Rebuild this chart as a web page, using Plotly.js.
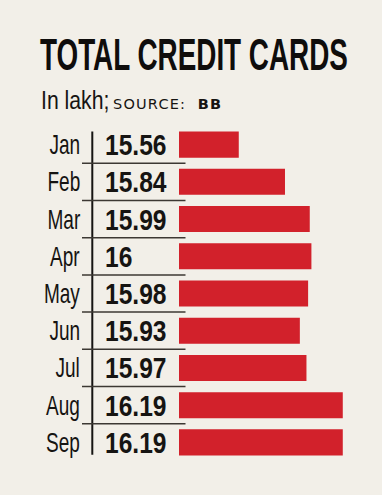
<!DOCTYPE html>
<html>
<head>
<meta charset="utf-8">
<script src="https://cdn.plot.ly/plotly-3.0.1.min.js"></script>
<style>
html,body{margin:0;padding:0;background:#f2efe8;}
#chart{width:382px;height:495px;}
</style>
</head>
<body>
<div id="chart"></div>
<script>
var months = ["Jan","Feb","Mar","Apr","May","Jun","Jul","Aug","Sep"];
var cards = [15.56, 15.84, 15.99, 16, 15.98, 15.93, 15.97, 16.19, 16.19];
var titleText = "TOTAL CREDIT CARDS";
var unitText = "In lakh;";
var sourceText = "SOURCE:";
var sourceName = "BB";

var SANS = "'Liberation Sans', Arial, sans-serif";
var L = 179, R = 349, T = 126, B = 461;
var W = 382, H = 495;
var pw = R - L;
function px(x){ return (x - L) / pw; }
function py(y){ return (B - y) / (B - T); }

var annotations = [];
var squeezeSpec = [];
months.forEach(function(m, i){
  annotations.push({
    xref:'paper', yref:'y', x:px(81), y:m, text:m, showarrow:false,
    xanchor:'right', yanchor:'middle', borderpad:0,
    font:{family:SANS, size:28, color:'#161412'}
  });
  squeezeSpec.push({s:0.68, a:'right'});
  annotations.push({
    xref:'paper', yref:'y', x:px(104), y:m, text:String(cards[i]), showarrow:false,
    xanchor:'left', yanchor:'middle', borderpad:0,
    font:{family:SANS, size:30, color:'#161412', weight:700}
  });
  squeezeSpec.push({s:0.82, a:'left'});
});
annotations.push({
  xref:'paper', yref:'paper', x:px(40), y:py(100), xanchor:'left', yanchor:'middle',
  showarrow:false, borderpad:0, text: unitText,
  font:{family:SANS, size:26.5, color:'#161412'}
});
squeezeSpec.push({s:0.8, a:'left'});
annotations.push({
  xref:'paper', yref:'paper', x:px(112), y:py(104), xanchor:'left', yanchor:'middle',
  showarrow:false, borderpad:0,
  text: sourceText + "  <b>" + sourceName + "</b>",
  font:{family:"'DejaVu Sans', sans-serif", size:14.5, color:'#161412'}
});
squeezeSpec.push({s:1, a:'left', ls:'1.2px'});

var shapes = [];
shapes.push({type:'line', xref:'paper', yref:'y', x0:px(92.3), x1:px(92.3), y0:-0.35, y1:8.33,
  line:{color:'#161412', width:2}});
for (var k = 0; k < months.length - 1; k++){
  shapes.push({type:'line', xref:'paper', yref:'y', x0:px(82), x1:px(185.5), y0:k+0.5, y1:k+0.5,
    line:{color:'#3c3833', width:1.5}});
}

var trace = {
  type:'bar', orientation:'h', x:cards, y:months,
  marker:{color:'#d2212b'}, hoverinfo:'skip', width:0.7
};

var layout = {
  width:W, height:H,
  margin:{l:L, r:W-R, t:T, b:H-B, pad:0},
  paper_bgcolor:'#f2efe8', plot_bgcolor:'#f2efe8',
  showlegend:false,
  title:{text:titleText, xref:'container', yref:'container', x:40/W, xanchor:'left',
    y:1-55/H, yanchor:'middle',
    font:{family:SANS, size:44, color:'#0f0d0c', weight:700}},
  xaxis:{range:[15.198, 15.198 + pw/165.1], visible:false, fixedrange:true},
  yaxis:{type:'category', range:[8.5,-0.5], visible:false, fixedrange:true},
  annotations:annotations,
  shapes:shapes
};

function squeeze(el, s, anchor, ls){
  var b0 = el.getBBox();
  var ax = anchor === 'right' ? b0.x + b0.width : b0.x;
  var t = el.getAttribute('transform') || '';
  if (ls) {
    el.style.letterSpacing = ls;
    var b1 = el.getBBox();
    var shift = anchor === 'right' ? (b0.x + b0.width) - (b1.x + b1.width) : b0.x - b1.x;
    t += ' translate(' + shift + ' 0)';
  }
  if (s !== 1) {
    t += ' translate(' + ax + ' 0) scale(' + s + ' 1) translate(' + (-ax) + ' 0)';
  }
  el.setAttribute('transform', t.trim());
}

Plotly.newPlot('chart', [trace], layout, {displayModeBar:false, staticPlot:true}).then(function(gd){
  squeezeSpec.forEach(function(sp, i){
    var el = gd.querySelector('g.annotation[data-index="' + i + '"] text.annotation-text');
    if (el) squeeze(el, sp.s, sp.a, sp.ls);
  });
  var tt = gd.querySelector('.gtitle');
  if (tt) {
    var b = tt.getBBox();
    squeeze(tt, 308 / b.width, 'left');
  }
});
</script>
</body>
</html>
